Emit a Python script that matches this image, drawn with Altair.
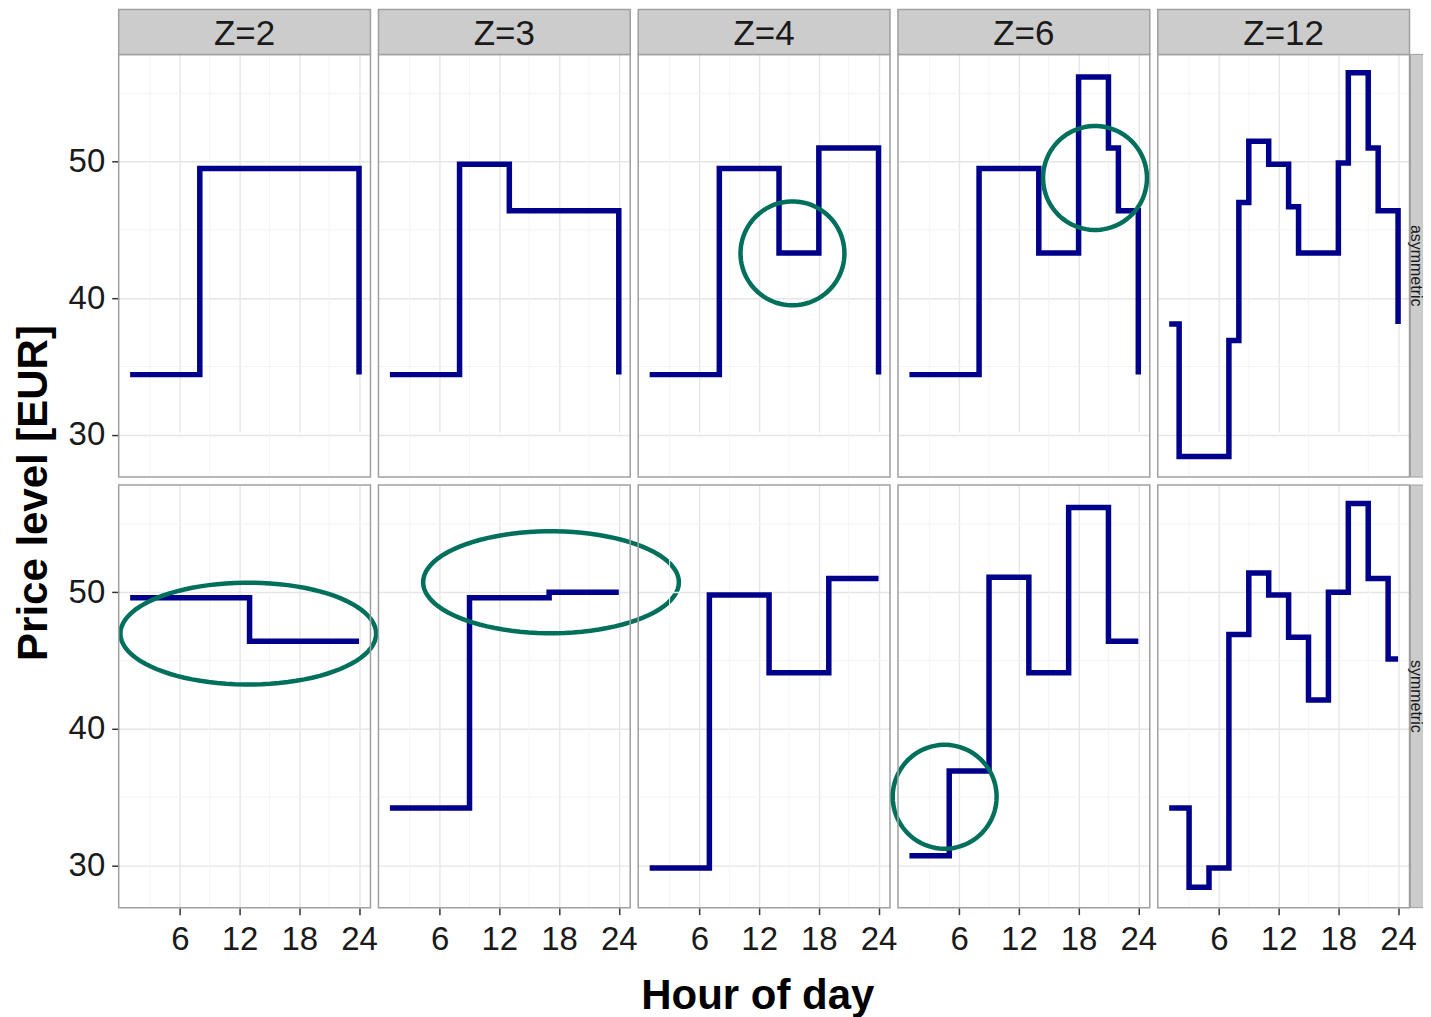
import math
import altair as alt
import pandas as pd

# ---------------- data ----------------
HOURS = list(range(1, 25))
Z_LABELS = ["Z=2", "Z=3", "Z=4", "Z=6", "Z=12"]
ROW_LABELS = ["asymmetric", "symmetric"]

ASYM_Z2 = [34.4, 34.4, 34.4, 34.4, 34.4, 34.4, 34.4, 49.5, 49.5, 49.5, 49.5, 49.5,
           49.5, 49.5, 49.5, 49.5, 49.5, 49.5, 49.5, 49.5, 49.5, 49.5, 49.5, 34.4]
ASYM_Z3 = [34.4, 34.4, 34.4, 34.4, 34.4, 34.4, 34.4, 49.8, 49.8, 49.8, 49.8, 49.8,
           46.4, 46.4, 46.4, 46.4, 46.4, 46.4, 46.4, 46.4, 46.4, 46.4, 46.4, 34.4]
ASYM_Z4 = [34.4, 34.4, 34.4, 34.4, 34.4, 34.4, 34.4, 49.5, 49.5, 49.5, 49.5, 49.5,
           49.5, 43.3, 43.3, 43.3, 43.3, 51.0, 51.0, 51.0, 51.0, 51.0, 51.0, 34.4]
ASYM_Z6 = [34.4, 34.4, 34.4, 34.4, 34.4, 34.4, 34.4, 49.5, 49.5, 49.5, 49.5, 49.5,
           49.5, 43.3, 43.3, 43.3, 43.3, 56.2, 56.2, 56.2, 51.0, 46.4, 46.4, 34.4]
ASYM_Z12 = [38.1, 28.4, 28.4, 28.4, 28.4, 28.4, 36.9, 47.0, 51.5, 51.5, 49.8, 49.8,
            46.7, 43.3, 43.3, 43.3, 43.3, 49.9, 56.5, 56.5, 51.0, 46.4, 46.4, 38.1]

SYM_Z2 = [49.6, 49.6, 49.6, 49.6, 49.6, 49.6, 49.6, 49.6, 49.6, 49.6, 49.6, 49.6,
          46.4, 46.4, 46.4, 46.4, 46.4, 46.4, 46.4, 46.4, 46.4, 46.4, 46.4, 46.4]
SYM_Z3 = [34.2, 34.2, 34.2, 34.2, 34.2, 34.2, 34.2, 34.2, 49.6, 49.6, 49.6, 49.6,
          49.6, 49.6, 49.6, 49.6, 50.0, 50.0, 50.0, 50.0, 50.0, 50.0, 50.0, 50.0]
SYM_Z4 = [29.8, 29.8, 29.8, 29.8, 29.8, 29.8, 49.8, 49.8, 49.8, 49.8, 49.8, 49.8,
          44.1, 44.1, 44.1, 44.1, 44.1, 44.1, 51.0, 51.0, 51.0, 51.0, 51.0, 51.0]
SYM_Z6 = [30.7, 30.7, 30.7, 30.7, 36.9, 36.9, 36.9, 36.9, 51.1, 51.1, 51.1, 51.1,
          44.1, 44.1, 44.1, 44.1, 56.2, 56.2, 56.2, 56.2, 46.4, 46.4, 46.4, 46.4]
SYM_Z12 = [34.2, 34.2, 28.4, 28.4, 29.8, 29.8, 46.9, 46.9, 51.4, 51.4, 49.8, 49.8,
           46.7, 46.7, 42.1, 42.1, 50.0, 50.0, 56.5, 56.5, 51.0, 51.0, 45.1, 45.1]

SERIES = {
    "asymmetric": [ASYM_Z2, ASYM_Z3, ASYM_Z4, ASYM_Z6, ASYM_Z12],
    "symmetric": [SYM_Z2, SYM_Z3, SYM_Z4, SYM_Z6, SYM_Z12],
}

MAJOR_X = [6, 12, 18, 24]
MINOR_X = [3, 9, 15, 21]
MAJOR_Y = [30, 40, 50]
MINOR_Y = [35, 45, 55]

# highlight ellipses (annotation): panel, centre (hour, price), radii in px
ANNOT_Z = ["Z=4", "Z=6", "Z=2", "Z=3", "Z=6"]
ANNOT_ROW = ["asymmetric", "asymmetric", "symmetric", "symmetric", "symmetric"]
ANNOT_HOUR = [15.35, 19.65, 12.87, 17.19, 4.54]
ANNOT_PRICE = [43.28, 48.8, 46.97, 50.73, 35.02]
ANNOT_RX = [52, 52, 128, 128, 52]
ANNOT_RY = [52, 52, 51, 51, 52]

# ---------------- style ----------------
FONT = "Liberation Sans"
TEXT = "#1A1A1A"
LINE = "#00008B"
GREEN = "#00705C"
GRID = "#E6E6E6"
MINOR = "#F3F3F3"
BORDER = "#A0A0A0"
STRIP_FILL = "#CCCCCC"

PANEL_W = 252
PANEL_H = 423
STRIP_H = 45
RSTRIP_W = 19
GAP = 8

XDOM = [-0.15, 25.15]
YDOM = [26.9, 57.85]


def ellipse_path(aspect, n=90):
    pts = []
    for i in range(n):
        t = 2 * math.pi * i / n
        pts.append(f"{math.cos(t):.4f},{aspect * math.sin(t):.4f}")
    return "M" + " L".join(pts) + " Z"


def panel(values, z, row, ci, ri):
    first = ci == 0
    bottom = ri == 1
    has_strip = ri == 0
    has_rstrip = ci == len(Z_LABELS) - 1
    top = STRIP_H if has_strip else 0
    H = PANEL_H + top
    W = PANEL_W + (1 + RSTRIP_W if has_rstrip else 0)

    xs = alt.Scale(domain=XDOM, range=[0, PANEL_W], nice=False, zero=False)
    ys = alt.Scale(domain=YDOM, range=[H, top], nice=False, zero=False)

    xa = dict(values=MAJOR_X, grid=True, labels=bottom, ticks=bottom, domain=False,
              format="d", labelPadding=9, title=None)
    if bottom and ci == 2:
        xa.update(title="Hour of day", titleX=119.2, titleY=88, titleBaseline="middle",
                  titleFontSize=42, titleFontWeight="bold", titleColor="#000000",
                  titleFont=FONT, titleAnchor="middle")
    ya = dict(values=MAJOR_Y, grid=True, labels=first, ticks=first, domain=False,
              format="d", labelPadding=7, title=None)
    if first and ri == 0:
        ya.update(title="Price level [EUR]", titleX=-85, titleY=483.5, titleAngle=270,
                  titleBaseline="middle", titleAlign="center", titleFontSize=42,
                  titleFontWeight="bold", titleColor="#000000", titleFont=FONT)
    xenc = alt.X("hour:Q", scale=xs, axis=alt.Axis(**xa))
    yenc = alt.Y("price:Q", scale=ys, axis=alt.Axis(**ya))

    df = pd.DataFrame({"hour": HOURS, "price": values})
    minor_x = alt.Chart(pd.DataFrame({"hour": MINOR_X})).mark_rule(
        color=MINOR, strokeWidth=0.9).encode(x=xenc)
    minor_y = alt.Chart(pd.DataFrame({"price": MINOR_Y})).mark_rule(
        color=MINOR, strokeWidth=0.9).encode(y=yenc)
    line = alt.Chart(df).mark_line(
        interpolate="step-after", color=LINE, strokeWidth=5.5,
        strokeJoin="miter", strokeCap="butt").encode(x=xenc, y=yenc)
    layers = [minor_x, minor_y, line]

    for i in range(len(ANNOT_Z)):
        if ANNOT_Z[i] == z and ANNOT_ROW[i] == row:
            adf = pd.DataFrame({"hour": [ANNOT_HOUR[i]], "price": [ANNOT_PRICE[i]]})
            shape = ellipse_path(ANNOT_RY[i] / ANNOT_RX[i])
            layers.append(alt.Chart(adf).mark_point(
                shape=shape, size=(2 * ANNOT_RX[i]) ** 2, filled=False,
                stroke=GREEN, strokeWidth=4.5, opacity=1, clip=False
            ).encode(x=xenc, y=yenc))

    lab = pd.DataFrame({"zlabel": [z], "rowlabel": [row]})
    layers.append(alt.Chart(lab).mark_rect(
        filled=False, stroke=BORDER, strokeWidth=1.5
    ).encode(x=alt.value(0), x2=alt.value(PANEL_W), y=alt.value(top), y2=alt.value(H)))
    if has_strip:
        layers.append(alt.Chart(lab).mark_rect(
            fill=STRIP_FILL, stroke=BORDER, strokeWidth=1.5
        ).encode(x=alt.value(0), x2=alt.value(PANEL_W), y=alt.value(0), y2=alt.value(STRIP_H)))
        layers.append(alt.Chart(lab).mark_text(
            font=FONT, fontSize=35, color=TEXT, align="center", baseline="middle"
        ).encode(text="zlabel:N", x=alt.value(PANEL_W / 2), y=alt.value(25)))
    if has_rstrip:
        x0 = PANEL_W + 1
        layers.append(alt.Chart(lab).mark_rect(
            fill=STRIP_FILL, stroke=BORDER, strokeWidth=1.0
        ).encode(x=alt.value(x0), x2=alt.value(W), y=alt.value(top), y2=alt.value(H)))
        layers.append(alt.Chart(lab).mark_text(
            font=FONT, fontSize=16, color=TEXT, align="center", baseline="middle", angle=90
        ).encode(text="rowlabel:N", x=alt.value(x0 + 5.5),
                 y=alt.value(top + PANEL_H / 2)))

    return alt.layer(*layers).properties(width=W, height=H)


cells = []
for ri, row in enumerate(ROW_LABELS):
    for ci in range(len(Z_LABELS)):
        cells.append(panel(SERIES[row][ci], Z_LABELS[ci], row, ci, ri))

chart = alt.concat(
    *cells, columns=len(Z_LABELS), spacing=GAP, bounds="flush", align="each"
).properties(
    padding={"left": 4.8, "top": 0, "right": -7.5, "bottom": 0}, background="white"
).configure_view(
    strokeWidth=0
).configure_axis(
    labelFont=FONT, labelFontSize=33, labelColor=TEXT, tickColor="#333333",
    tickSize=7, tickWidth=1.5, gridColor=GRID, gridWidth=1.4, domain=False
)

chart.save("out.html", embed_options={"renderer": "svg", "actions": False})
